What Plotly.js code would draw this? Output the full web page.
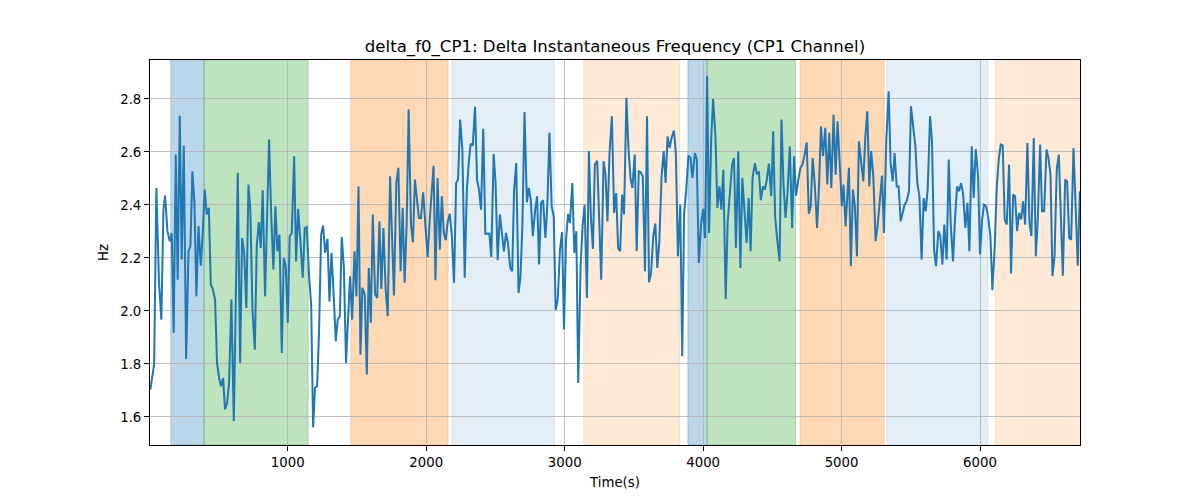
<!DOCTYPE html>
<html>
<head>
<meta charset="utf-8">
<script src="https://cdn.plot.ly/plotly-3.0.1.min.js"></script>
<style>
  body { margin: 0; background: #fff; }
  #chart { width: 1200px; height: 500px; }
</style>
</head>
<body>
<div id="chart"></div>
<script>
// time (s) of each sample
const timeSec = [
  8, 35, 51, 70, 87, 102, 114, 131, 148, 162, 176, 191, 205, 220, 234, 249, 266, 283, 297, 311,
  326, 340, 355, 372, 386, 400, 415, 430, 444, 458, 475, 489, 504, 518, 533, 547, 562, 576, 593, 610,
  624, 639, 656, 670, 685, 701, 716, 730, 745, 762, 776, 791, 805, 819, 836, 851, 865, 880, 896, 911,
  925, 940, 957, 971, 986, 1000, 1014, 1029, 1046, 1060, 1075, 1092, 1108, 1123, 1137, 1154, 1169, 1183, 1197, 1212,
  1226, 1241, 1255, 1270, 1287, 1301, 1316, 1330, 1347, 1361, 1376, 1390, 1405, 1421, 1436, 1450, 1465, 1482, 1496, 1511,
  1525, 1539, 1556, 1571, 1585, 1600, 1614, 1631, 1646, 1662,
  1676, 1691, 1707, 1722, 1739, 1753, 1767, 1784, 1799, 1815, 1830, 1844, 1859, 1873, 1890, 1904, 1918, 1933, 1947, 1962,
  1978, 1993, 2010, 2024, 2038, 2053, 2067, 2082, 2098, 2113, 2127, 2141, 2156, 2170, 2185, 2201, 2216, 2230, 2245, 2261,
  2278, 2293, 2307, 2321, 2336, 2353, 2367, 2381, 2396, 2412, 2427, 2441, 2456, 2470, 2487, 2501, 2516, 2532, 2547, 2561,
  2576, 2590, 2607, 2621, 2635, 2650, 2667, 2681, 2695, 2710, 2727, 2741, 2755, 2770, 2787, 2801, 2815, 2830, 2844, 2861,
  2875, 2890, 2906, 2921, 2935, 2950, 2966, 2981, 2995, 3010, 3024, 3038, 3055, 3070, 3084, 3098, 3115, 3129, 3144, 3161,
  3175, 3189, 3204, 3218, 3235, 3249, 3264, 3281, 3295, 3309, 3324,
  3341, 3357, 3372, 3386, 3401, 3415, 3429, 3446, 3460, 3475, 3489, 3506, 3520, 3535, 3549, 3564, 3580, 3595, 3609, 3624,
  3640, 3655, 3669, 3683, 3700, 3715, 3729, 3743, 3758, 3772, 3789, 3803, 3818, 3835, 3849, 3863, 3878, 3894, 3909, 3923,
  3940, 3954, 3969, 3986, 4000, 4014, 4029, 4043, 4058, 4072, 4089, 4103, 4118, 4132, 4146, 4163, 4177, 4192, 4209, 4223,
  4237, 4254, 4269, 4283, 4300, 4314, 4329, 4343, 4357, 4374, 4388, 4403, 4417, 4432, 4446, 4460, 4475, 4492, 4506, 4520,
  4535, 4552, 4566, 4580, 4595, 4611, 4626, 4643, 4657, 4671, 4688, 4703, 4717, 4731, 4748, 4763, 4777, 4791, 4806, 4823,
  4837, 4851, 4866, 4882, 4897, 4911, 4926, 4942, 4957, 4971,
  5002, 5014, 5029, 5041, 5053, 5067, 5082, 5096, 5111, 5125, 5142, 5157, 5171, 5186, 5200, 5214, 5229, 5246, 5260, 5275,
  5292, 5306, 5323, 5340, 5354, 5369, 5383, 5398, 5412, 5427, 5441, 5455, 5470, 5487, 5501, 5516, 5533, 5547, 5562, 5578,
  5593, 5607, 5622, 5639, 5653, 5668, 5682, 5699, 5713, 5728, 5742, 5759, 5774, 5788, 5805, 5819, 5834, 5848, 5863, 5877,
  5894, 5909, 5923, 5940, 5954, 5969, 5986, 6000, 6015, 6029, 6044, 6058, 6075, 6089, 6106, 6121, 6135, 6150, 6164, 6178,
  6193, 6210, 6224, 6239, 6253, 6268, 6282, 6297, 6311, 6326, 6342, 6357, 6371, 6388, 6403, 6417, 6434, 6448, 6463, 6480,
  6494, 6509, 6523, 6538, 6554, 6569, 6583, 6598, 6615, 6629, 6644, 6658, 6675, 6692, 6706, 6721
];

// delta f0 (Hz) of each sample
const deltaF0 = [
  1.703, 1.80, 2.464, 2.106, 1.967, 2.382, 2.435, 2.30, 2.263, 2.294, 1.917, 2.59, 2.118, 2.737, 2.194, 2.624, 1.819, 2.225, 2.244, 2.527,
  2.408, 2.055, 2.32, 2.171, 2.294, 2.458, 2.364, 2.389, 2.099, 2.083, 2.043, 1.804, 1.747, 1.716, 1.747, 1.628, 1.653, 1.728, 2.043, 1.584,
  2.018, 2.521, 1.804, 2.275, 2.219, 2.011, 2.477, 2.376, 2.005, 1.854, 2.244, 2.335, 2.238, 2.455, 2.055, 2.332, 2.647, 2.370, 2.156, 2.395,
  2.225, 2.288, 1.841, 2.20, 2.168, 1.955, 2.282, 2.294, 2.584, 2.187, 2.385, 2.257, 2.125, 2.313, 2.316, 2.131, 2.024, 1.561, 1.709, 1.716,
  1.923, 2.288, 2.322, 2.219, 2.272, 2.036, 2.219, 2.08, 1.886, 1.967, 1.98, 2.279, 2.168, 1.804, 1.967, 2.131, 1.967, 2.225, 2.055, 2.470,
  1.835, 2.087, 2.062, 1.760, 2.162, 1.955, 2.364, 2.062, 2.049, 2.338,
  2.083, 2.313, 2.081, 1.980, 2.508, 2.282, 2.058, 2.483, 2.540, 2.150, 2.389, 2.106, 2.332, 2.760, 2.326, 2.259, 2.496, 2.423, 2.351, 2.351,
  2.448, 2.332, 2.204, 2.332, 2.439, 2.548, 2.116, 2.502, 2.231, 2.433, 2.294, 2.267, 2.338, 2.367, 2.282, 2.106, 2.483, 2.496, 2.722, 2.609,
  2.125, 2.452, 2.558, 2.631, 2.624, 2.770, 2.496, 2.458, 2.382, 2.687, 2.291, 2.291, 2.292, 2.204, 2.592, 2.483, 2.191, 2.364, 2.294, 2.225,
  2.294, 2.257, 2.162, 2.150, 2.458, 2.558, 2.068, 2.131, 2.332, 2.751, 2.410, 2.464, 2.420, 2.282, 2.382, 2.433, 2.175, 2.408, 2.418, 2.275,
  2.401, 2.672, 2.395, 2.357, 2.003, 2.043, 2.231, 2.297, 1.930, 2.269, 2.366, 2.332, 2.483, 2.219, 2.301, 1.728, 2.169, 2.319, 2.401, 2.049,
  2.603, 2.357, 2.234, 2.552, 2.567, 2.345, 2.118, 2.565, 2.514, 2.338, 2.596,
  2.735, 2.370, 2.445, 2.238, 2.225, 2.439, 2.364, 2.804, 2.621, 2.502, 2.464, 2.590, 2.225, 2.527, 2.523, 2.508, 2.150, 2.735, 2.108, 2.143,
  2.282, 2.330, 2.162, 2.257, 2.508, 2.603, 2.483, 2.659, 2.615, 2.653, 2.681, 2.596, 2.206, 2.401, 1.829, 2.370, 2.458, 2.586, 2.577, 2.502,
  2.596, 2.571, 2.181, 2.332, 2.385, 2.275, 2.886, 2.294, 2.647, 2.800, 2.659, 2.389, 2.470, 2.382, 2.533, 2.045, 2.332, 2.445, 2.552, 2.577,
  2.238, 2.603, 2.162, 2.502, 2.351, 2.257, 2.426, 2.225, 2.502, 2.558, 2.518, 2.523, 2.418, 2.470, 2.458, 2.496, 2.556, 2.433, 2.678, 2.357,
  2.269, 2.187, 2.722, 2.483, 2.351, 2.458, 2.621, 2.313, 2.584, 2.435, 2.496, 2.540, 2.552, 2.584, 2.636, 2.367, 2.395, 2.577, 2.483, 2.313,
  2.470, 2.697, 2.584, 2.691, 2.477, 2.672, 2.464, 2.741, 2.514, 2.716,
  2.395, 2.477, 2.319, 2.414, 2.540, 2.169, 2.458, 2.395, 2.206, 2.640, 2.571, 2.489, 2.653, 2.753, 2.470, 2.603, 2.508, 2.263, 2.319, 2.420,
  2.511, 2.294, 2.647, 2.829, 2.558, 2.489, 2.596, 2.470, 2.470, 2.338, 2.370, 2.401, 2.414, 2.452, 2.772, 2.697, 2.621, 2.483, 2.433, 2.194,
  2.426, 2.376, 2.458, 2.735, 2.640, 2.231, 2.169, 2.301, 2.282, 2.175, 2.326, 2.194, 2.571, 2.332, 2.187, 2.345, 2.470, 2.452, 2.483, 2.445,
  2.313, 2.408, 2.225, 2.621, 2.426, 2.611, 2.508, 2.213, 2.345, 2.401, 2.395, 2.357, 2.282, 2.078, 2.244, 2.470, 2.571, 2.628, 2.625, 2.345,
  2.326, 2.552, 2.141, 2.439, 2.433, 2.301, 2.370, 2.345, 2.414, 2.326, 2.634, 2.332, 2.282, 2.653, 2.206, 2.345, 2.628, 2.376, 2.376, 2.609,
  2.577, 2.514, 2.131, 2.206, 2.533, 2.590, 2.376, 2.133, 2.496, 2.489, 2.275, 2.269, 2.615, 2.345, 2.171, 2.452
];

// shaded segments: start, end (s) and kind
const bandStart = [155, 396, 1455, 2185, 3137, 3890, 4029, 4700, 5325, 6109];
const bandEnd   = [396, 1147, 2158, 2926, 3832, 4029, 4667, 5308, 6056, 6760];
const bandKind  = ['blue', 'green', 'orange', 'paleBlue', 'paleOrange', 'blue', 'green', 'orange', 'paleBlue', 'paleOrange'];

const bandFill = {
  blue: 'rgba(31,119,180,0.3)',
  green: 'rgba(44,160,44,0.3)',
  orange: 'rgba(255,127,14,0.3)',
  paleBlue: 'rgba(31,119,180,0.12)',
  paleOrange: 'rgba(255,127,14,0.16)'
};

const shapes = bandStart.map((s, i) => ({
  type: 'rect',
  xref: 'x',
  yref: 'paper',
  x0: s,
  x1: bandEnd[i],
  y0: 0,
  y1: 1,
  fillcolor: bandFill[bandKind[i]],
  line: { width: 1, color: bandFill[bandKind[i]] },
  layer: 'below'
}));

const trace = {
  x: timeSec,
  y: deltaF0,
  type: 'scatter',
  mode: 'lines',
  line: { color: '#1f77b4', width: 2 },
  hoverinfo: 'x+y'
};

const axisStyle = {
  showline: true,
  mirror: true,
  linecolor: '#000',
  linewidth: 1,
  ticks: 'outside',
  ticklen: 5,
  tickwidth: 1,
  tickcolor: '#000',
  showgrid: true,
  gridcolor: '#b0b0b0',
  gridwidth: 0.8,
  zeroline: false,
  tickfont: { size: 13.3, color: '#000' }
};

const layout = {
  width: 1200,
  height: 500,
  margin: { l: 150, r: 120, t: 60, b: 55 },
  paper_bgcolor: '#fff',
  plot_bgcolor: '#fff',
  font: { family: 'DejaVu Sans, sans-serif', color: '#000' },
  showlegend: false,
  title: {
    text: 'delta_f0_CP1: Delta Instantaneous Frequency (CP1 Channel)',
    font: { size: 16.6, color: '#000' },
    x: 0.5,
    xref: 'paper',
    y: 0.908,
    yref: 'container',
    yanchor: 'middle'
  },
  xaxis: Object.assign({}, axisStyle, {
    range: [5, 6722],
    dtick: 1000,
    tick0: 0,
    title: { text: 'Time(s)', font: { size: 13.3 }, standoff: 8 }
  }),
  yaxis: Object.assign({}, axisStyle, {
    range: [1.494, 2.947],
    dtick: 0.2,
    tick0: 0,
    tickformat: '.1f',
    title: { text: 'Hz', font: { size: 13.3 }, standoff: 8 }
  }),
  shapes: shapes
};

Plotly.newPlot('chart', [trace], layout, { displayModeBar: false, staticPlot: true });
</script>
</body>
</html>
